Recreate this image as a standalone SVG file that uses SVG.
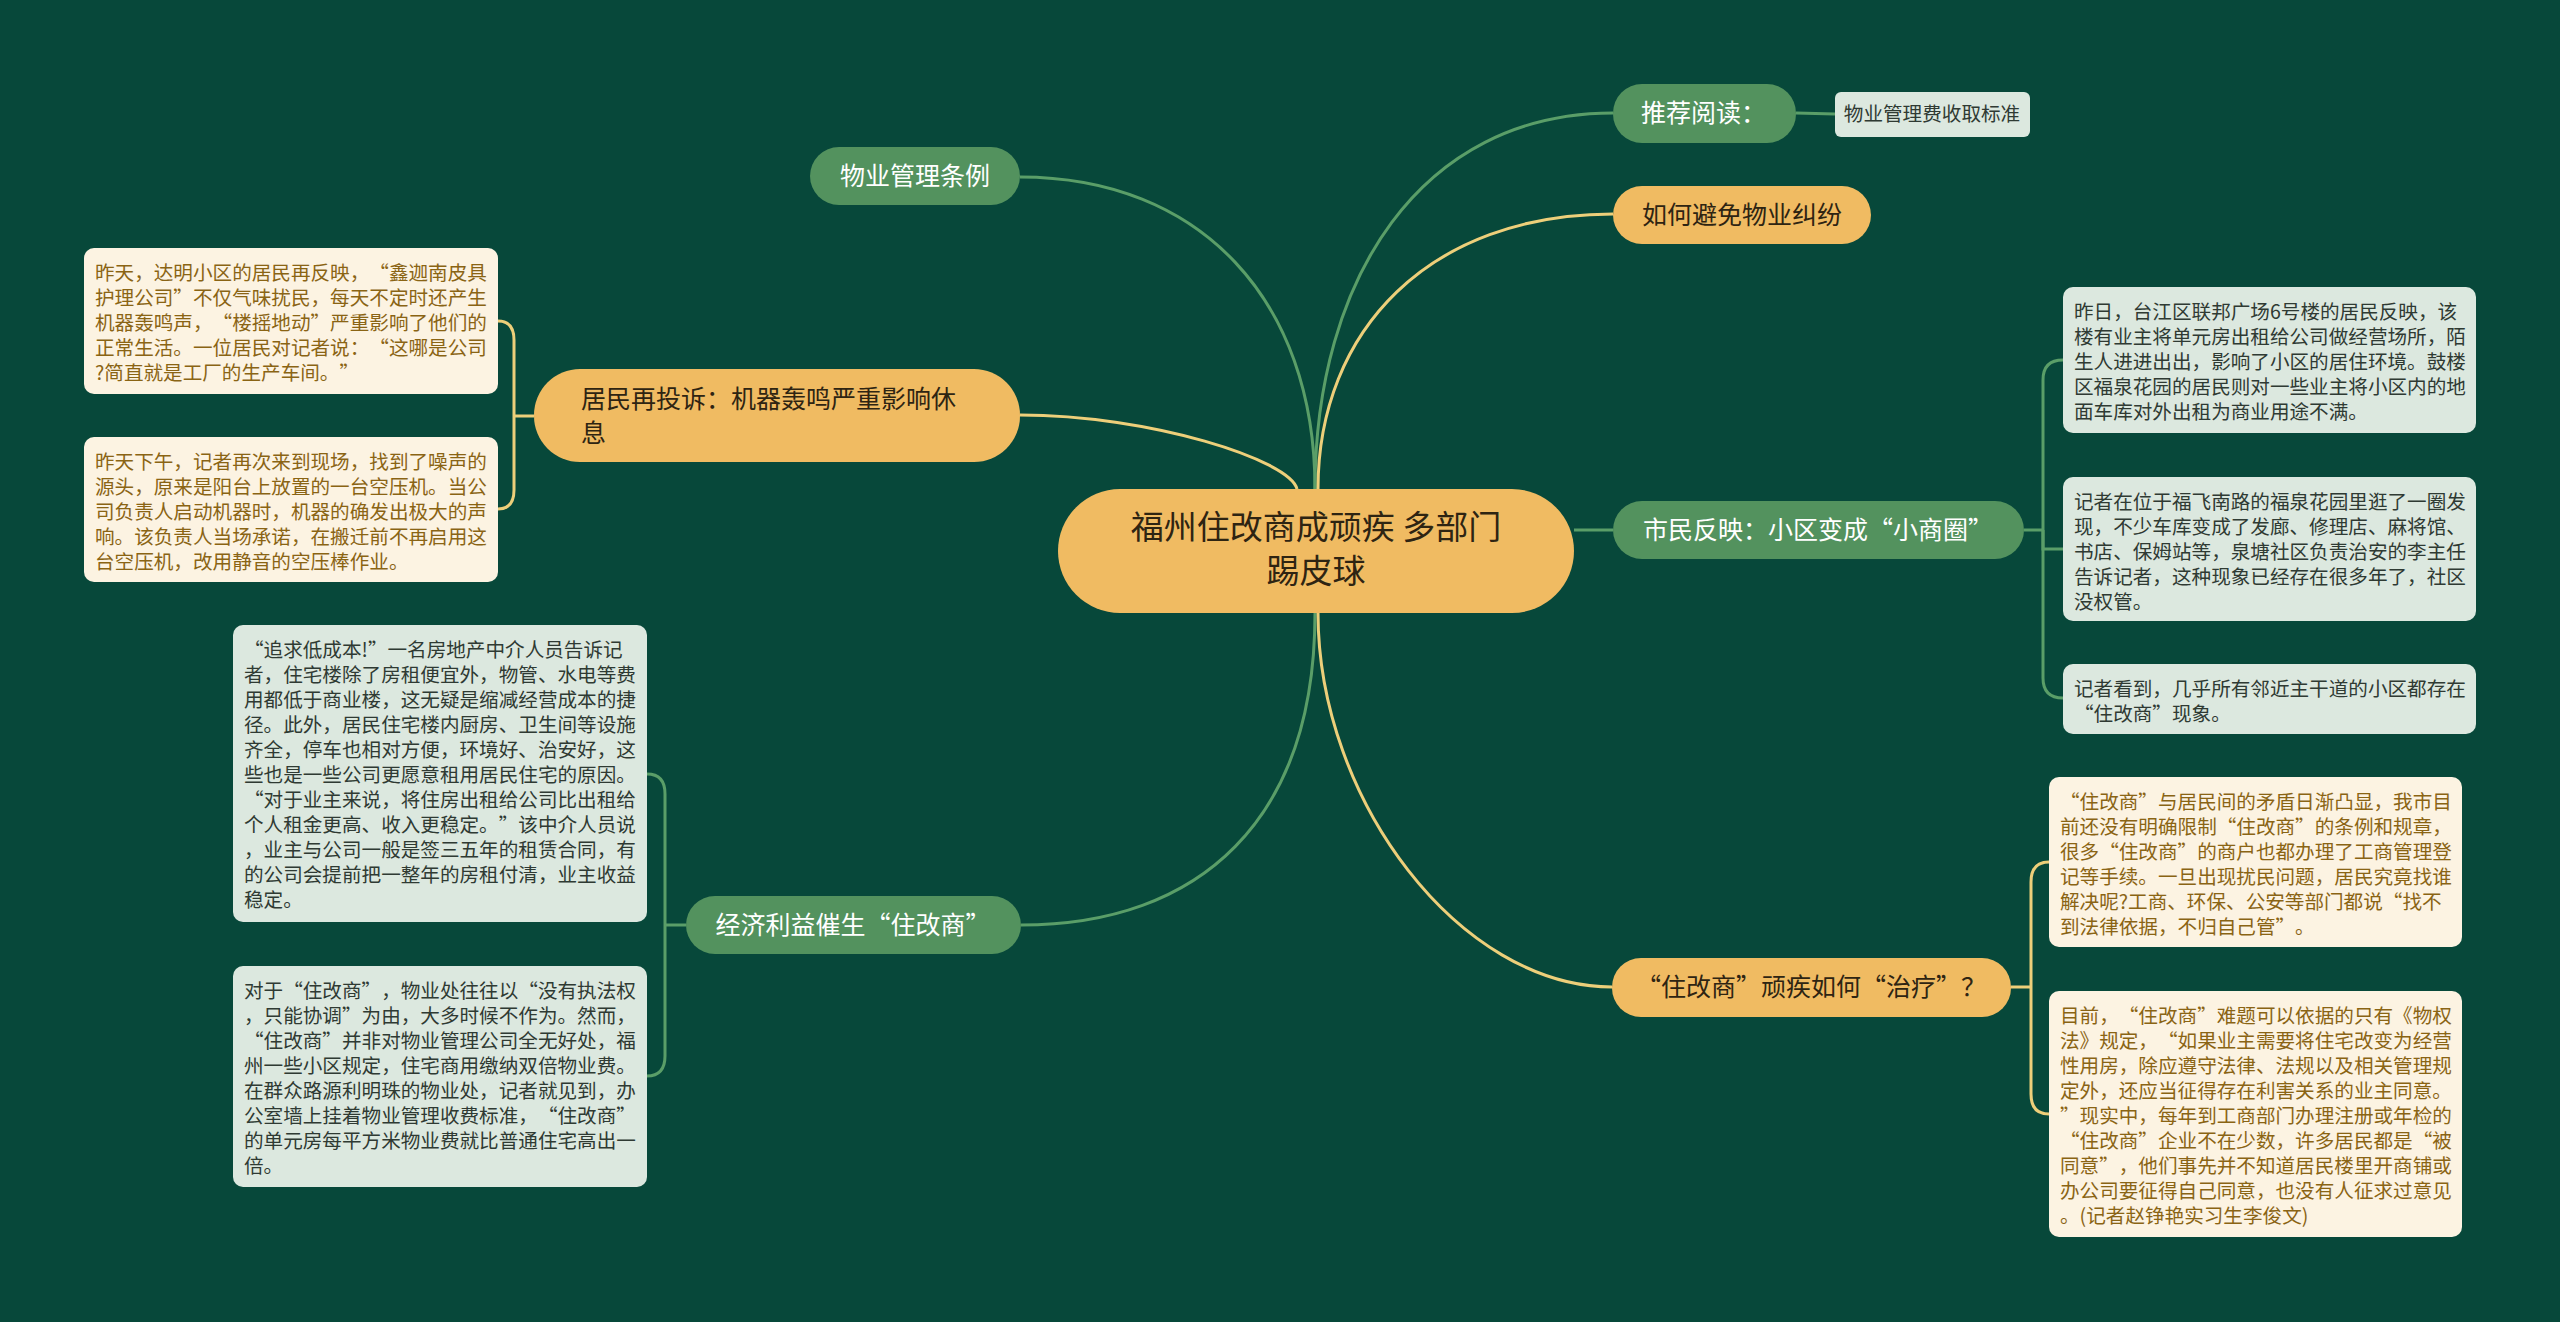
<svg xmlns="http://www.w3.org/2000/svg" width="2560" height="1322" viewBox="0 0 2560 1322">
<style>
  text { font-family: "Noto Sans CJK SC", "Noto Sans", sans-serif; text-spacing-trim: space-all; }
  .or { fill: #F0BB62; }
  .gr { fill: #53925E; }
  .cream { fill: #FCF3E2; }
  .lgreen { fill: #DCE8DF; }
  .tdark { fill: #2E2412; font-size: 25px; }
  .twhite { fill: #FFFFFF; font-size: 25px; }
  .tcenter { fill: #2E2412; font-size: 33px; }
  .tbrown { fill: #8A6414; font-size: 19.6px; }
  .tgreen { fill: #2F3A33; font-size: 19.6px; }
  .lg { fill: none; stroke: #5A9E68; stroke-width: 3; }
  .lo { fill: none; stroke: #EDCF7A; stroke-width: 3; }
</style>
<rect x="0" y="0" width="2560" height="1322" fill="#07483A"/>

<g id="connectors">
  <path class="lg" d="M1020,177 C1200,177 1315,300 1315,489"/>
  <path class="lo" d="M1020,415 C1150,415 1290,460 1297,489"/>
  <path class="lg" d="M1315,489 C1315,280 1420,113 1613,113"/>
  <path class="lo" d="M1318,489 C1318,330 1430,214 1613,214"/>
  <path class="lg" d="M1574,530 L1613,530"/>
  <path class="lg" d="M1315,613 C1315,820 1200,925 1021,925"/>
  <path class="lo" d="M1318,613 C1318,800 1460,987 1612,987"/>
  <path class="lg" d="M1796,113 L1835,114"/>
  <path class="lo" d="M534,416 L514,416"/>
  <path class="lo" d="M514,416 L514,340 Q514,321 498,321"/>
  <path class="lo" d="M514,416 L514,490 Q514,509 498,509"/>
  <path class="lg" d="M686,925 L665,925"/>
  <path class="lg" d="M665,925 L665,794 Q665,774 647,774"/>
  <path class="lg" d="M665,925 L665,1056 Q665,1076 647,1076"/>
  <path class="lg" d="M2024,530 L2043,530"/>
  <path class="lg" d="M2043,530 L2043,380 Q2043,360 2063,360"/>
  <path class="lg" d="M2043,530 L2043,549 L2063,549"/>
  <path class="lg" d="M2043,530 L2043,678 Q2043,698 2063,698"/>
  <path class="lo" d="M2011,987 L2031,987"/>
  <path class="lo" d="M2031,987 L2031,882 Q2031,862 2049,862"/>
  <path class="lo" d="M2031,987 L2031,1094 Q2031,1114 2049,1114"/>
</g>

<g id="center">
  <rect class="or" x="1058" y="489" width="516" height="124" rx="62"/>
  <text class="tcenter" x="1316" y="539" text-anchor="middle">福州住改商成顽疾 多部门</text>
  <text class="tcenter" x="1316" y="583" text-anchor="middle">踢皮球</text>
</g>

<g id="n-wuye-tiaoli">
  <rect class="gr" x="810" y="147" width="210" height="58" rx="29"/>
  <text class="twhite" x="915" y="185" text-anchor="middle">物业管理条例</text>
</g>

<g id="n-jumin">
  <rect class="or" x="534" y="369" width="486" height="93" rx="46"/>
  <text class="tdark"><tspan x="581" y="408">居民再投诉：机器轰鸣严重影响休</tspan><tspan x="581" y="442">息</tspan></text>
</g>

<g id="n-jingji">
  <rect class="gr" x="686" y="896" width="335" height="58" rx="29"/>
  <text class="twhite" x="853" y="934" text-anchor="middle">经济利益催生“住改商”</text>
</g>

<g id="n-tuijian">
  <rect class="gr" x="1613" y="84" width="183" height="59" rx="29"/>
  <text class="twhite" x="1641" y="122">推荐阅读：</text>
</g>

<g id="n-biaozhun">
  <rect class="lgreen" x="1835" y="92" width="195" height="45" rx="6"/>
  <text class="tgreen" x="1932" y="121" text-anchor="middle">物业管理费收取标准</text>
</g>

<g id="n-bimian">
  <rect class="or" x="1613" y="186" width="258" height="58" rx="29"/>
  <text class="tdark" x="1742" y="224" text-anchor="middle">如何避免物业纠纷</text>
</g>

<g id="n-shimin">
  <rect class="gr" x="1613" y="501" width="411" height="58" rx="29"/>
  <text class="twhite" x="1818" y="539" text-anchor="middle">市民反映：小区变成“小商圈”</text>
</g>

<g id="n-zhiliao">
  <rect class="or" x="1612" y="958" width="399" height="59" rx="29"/>
  <text class="tdark" x="1811" y="996" text-anchor="middle">“住改商”顽疾如何“治疗”？</text>
</g>

<g id="d-l1">
  <rect class="cream" x="84" y="248" width="414" height="146" rx="10"/>
  <text class="tbrown"><tspan x="95" y="280">昨天，达明小区的居民再反映，“鑫迦南皮具</tspan><tspan x="95" y="305">护理公司”不仅气味扰民，每天不定时还产生</tspan><tspan x="95" y="330">机器轰鸣声，“楼摇地动”严重影响了他们的</tspan><tspan x="95" y="355">正常生活。一位居民对记者说：“这哪是公司</tspan><tspan x="95" y="380">?简直就是工厂的生产车间。”</tspan></text>
</g>

<g id="d-l2">
  <rect class="cream" x="84" y="437" width="414" height="145" rx="10"/>
  <text class="tbrown"><tspan x="95" y="469">昨天下午，记者再次来到现场，找到了噪声的</tspan><tspan x="95" y="494">源头，原来是阳台上放置的一台空压机。当公</tspan><tspan x="95" y="519">司负责人启动机器时，机器的确发出极大的声</tspan><tspan x="95" y="544">响。该负责人当场承诺，在搬迁前不再启用这</tspan><tspan x="95" y="569">台空压机，改用静音的空压棒作业。</tspan></text>
</g>

<g id="d-a">
  <rect class="lgreen" x="233" y="625" width="414" height="297" rx="10"/>
  <text class="tgreen"><tspan x="244" y="657">“追求低成本!”一名房地产中介人员告诉记</tspan><tspan x="244" y="682">者，住宅楼除了房租便宜外，物管、水电等费</tspan><tspan x="244" y="707">用都低于商业楼，这无疑是缩减经营成本的捷</tspan><tspan x="244" y="732">径。此外，居民住宅楼内厨房、卫生间等设施</tspan><tspan x="244" y="757">齐全，停车也相对方便，环境好、治安好，这</tspan><tspan x="244" y="782">些也是一些公司更愿意租用居民住宅的原因。</tspan><tspan x="244" y="807">“对于业主来说，将住房出租给公司比出租给</tspan><tspan x="244" y="832">个人租金更高、收入更稳定。”该中介人员说</tspan><tspan x="244" y="857">，业主与公司一般是签三五年的租赁合同，有</tspan><tspan x="244" y="882">的公司会提前把一整年的房租付清，业主收益</tspan><tspan x="244" y="907">稳定。</tspan></text>
</g>

<g id="d-b">
  <rect class="lgreen" x="233" y="966" width="414" height="221" rx="10"/>
  <text class="tgreen"><tspan x="244" y="998">对于“住改商”，物业处往往以“没有执法权</tspan><tspan x="244" y="1023">，只能协调”为由，大多时候不作为。然而，</tspan><tspan x="244" y="1048">“住改商”并非对物业管理公司全无好处，福</tspan><tspan x="244" y="1073">州一些小区规定，住宅商用缴纳双倍物业费。</tspan><tspan x="244" y="1098">在群众路源利明珠的物业处，记者就见到，办</tspan><tspan x="244" y="1123">公室墙上挂着物业管理收费标准，“住改商”</tspan><tspan x="244" y="1148">的单元房每平方米物业费就比普通住宅高出一</tspan><tspan x="244" y="1173">倍。</tspan></text>
</g>

<g id="d-r1">
  <rect class="lgreen" x="2063" y="287" width="413" height="146" rx="10"/>
  <text class="tgreen"><tspan x="2074" y="319">昨日，台江区联邦广场6号楼的居民反映，该</tspan><tspan x="2074" y="344">楼有业主将单元房出租给公司做经营场所，陌</tspan><tspan x="2074" y="369">生人进进出出，影响了小区的居住环境。鼓楼</tspan><tspan x="2074" y="394">区福泉花园的居民则对一些业主将小区内的地</tspan><tspan x="2074" y="419">面车库对外出租为商业用途不满。</tspan></text>
</g>

<g id="d-r2">
  <rect class="lgreen" x="2063" y="477" width="413" height="144" rx="10"/>
  <text class="tgreen"><tspan x="2074" y="509">记者在位于福飞南路的福泉花园里逛了一圈发</tspan><tspan x="2074" y="534">现，不少车库变成了发廊、修理店、麻将馆、</tspan><tspan x="2074" y="559">书店、保姆站等，泉塘社区负责治安的李主任</tspan><tspan x="2074" y="584">告诉记者，这种现象已经存在很多年了，社区</tspan><tspan x="2074" y="609">没权管。</tspan></text>
</g>

<g id="d-r3">
  <rect class="lgreen" x="2063" y="664" width="413" height="70" rx="10"/>
  <text class="tgreen"><tspan x="2074" y="696">记者看到，几乎所有邻近主干道的小区都存在</tspan><tspan x="2074" y="721">“住改商”现象。</tspan></text>
</g>

<g id="d-o1">
  <rect class="cream" x="2049" y="777" width="413" height="170" rx="10"/>
  <text class="tbrown"><tspan x="2060" y="809">“住改商”与居民间的矛盾日渐凸显，我市目</tspan><tspan x="2060" y="834">前还没有明确限制“住改商”的条例和规章，</tspan><tspan x="2060" y="859">很多“住改商”的商户也都办理了工商管理登</tspan><tspan x="2060" y="884">记等手续。一旦出现扰民问题，居民究竟找谁</tspan><tspan x="2060" y="909">解决呢?工商、环保、公安等部门都说“找不</tspan><tspan x="2060" y="934">到法律依据，不归自己管”。</tspan></text>
</g>

<g id="d-o2">
  <rect class="cream" x="2049" y="991" width="413" height="246" rx="10"/>
  <text class="tbrown"><tspan x="2060" y="1023">目前，“住改商”难题可以依据的只有《物权</tspan><tspan x="2060" y="1048">法》规定，“如果业主需要将住宅改变为经营</tspan><tspan x="2060" y="1073">性用房，除应遵守法律、法规以及相关管理规</tspan><tspan x="2060" y="1098">定外，还应当征得存在利害关系的业主同意。</tspan><tspan x="2060" y="1123">”现实中，每年到工商部门办理注册或年检的</tspan><tspan x="2060" y="1148">“住改商”企业不在少数，许多居民都是“被</tspan><tspan x="2060" y="1173">同意”，他们事先并不知道居民楼里开商铺或</tspan><tspan x="2060" y="1198">办公司要征得自己同意，也没有人征求过意见</tspan><tspan x="2060" y="1223">。(记者赵铮艳实习生李俊文)</tspan></text>
</g>
</svg>
